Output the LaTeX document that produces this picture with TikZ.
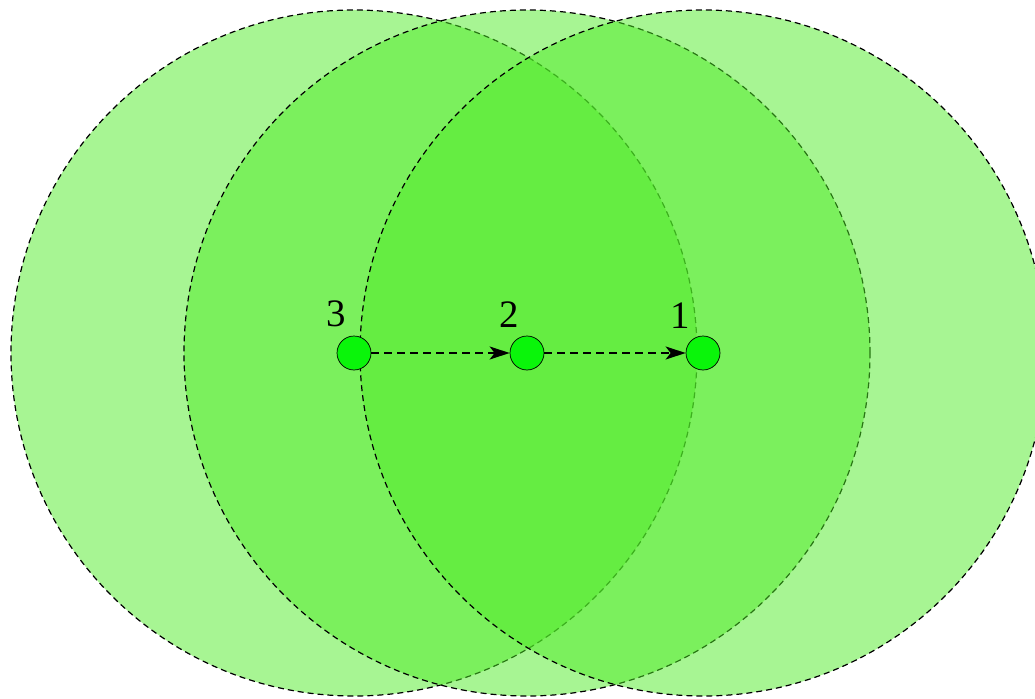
\documentclass[tikz,border=0pt]{standalone}
\usepackage{fontspec}
\setmainfont{Liberation Serif}
\usetikzlibrary{arrows.meta,calc}
\definecolor{zonegreen}{RGB}{80,235,40}
\definecolor{dotgreen}{RGB}{10,245,10}
\tikzset{
  zone/.style={circle, draw=black, line width=1.2bp, dash pattern=on 6bp off 4bp,
    fill=zonegreen, fill opacity=0.5, draw opacity=1, minimum size=686bp, inner sep=0pt},
  dotnode/.style={circle, draw=black, line width=0.7bp, fill=dotgreen, minimum size=34bp, inner sep=0pt},
  hop/.style={line width=2bp, dash pattern=on 8bp off 5bp,
    -{Stealth[length=20bp,width=13bp,inset=5bp]}},
  lbl/.style={font=\fontsize{39}{40}\selectfont, inner sep=0pt}
}
\begin{document}
\begin{tikzpicture}[x=1bp,y=-1bp]
\useasboundingbox (0,0) rectangle (1035,699);
\clip (0,0) rectangle (1035,699);
\coordinate (p3) at (354,353);
\coordinate (p2) at (527,353);
\coordinate (p1) at (703,353);
\node[zone] (c3) at (p3) {};
\node[zone] (c2) at (p2) {};
\node[zone] (c1) at (p1) {};
\node[dotnode] (n3) at (p3) {};
\node[dotnode] (n2) at (p2) {};
\node[dotnode] (n1) at (p1) {};
\draw[hop] (n3) -- (n2);
\draw[hop] (n2) -- (n1);
\node[lbl] (l3) at ($(p3)+(-18,-39)$) {3};
\node[lbl] (l2) at ($(p2)+(-18,-38)$) {2};
\node[lbl] (l1) at ($(p1)+(-23,-37)$) {1};
\end{tikzpicture}
\end{document}
